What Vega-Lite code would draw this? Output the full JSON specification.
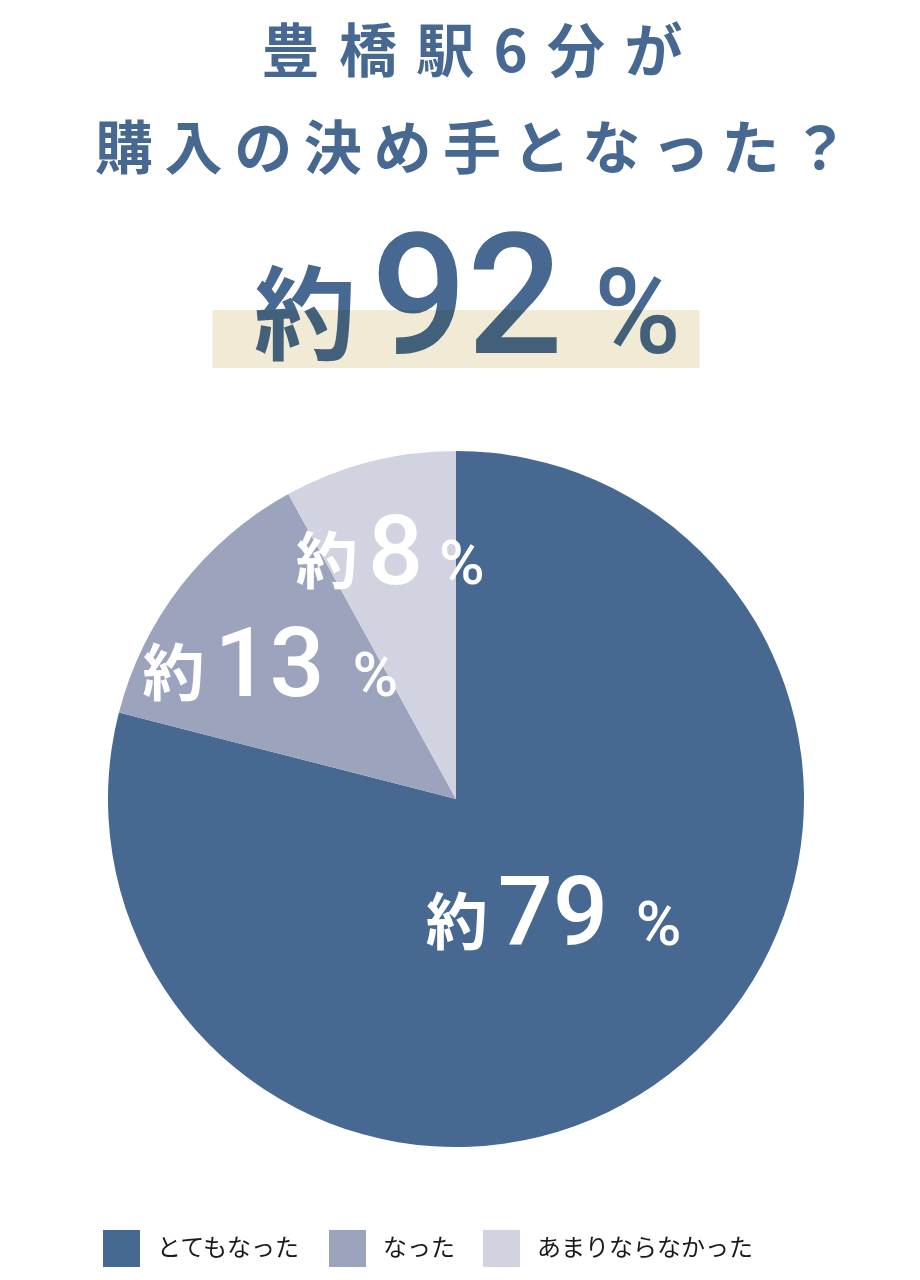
{
  "$schema": "https://vega.github.io/schema/vega-lite/v6.json",
  "description": "豊橋駅6分が購入の決め手となった？",
  "background": "white",
  "padding": {"top": 26, "left": 0, "right": 0, "bottom": 0},
  "bounds": "flush",
  "title": {
    "text": ["豊\u2004橋\u2004駅\u20046\u2004分\u2004が", "購\u2009入\u2009の\u2009決\u2009め\u2009手\u2009と\u2009な\u2009っ\u2009た\u2009？"],
    "font": "Noto Sans CJK JP",
    "fontSize": 58,
    "fontWeight": "bold",
    "lineHeight": 97,
    "color": "#466891",
    "anchor": "middle",
    "dx": 16,
    "offset": 37
  },
  "spacing": 81,
  "center": true,
  "vconcat": [
    {
      "width": 487,
      "height": 58,
      "view": {"fill": "#f1ebd6", "stroke": null},
      "data": {"values": [{"prefix": "約", "value": 92, "unit": "%"}]},
      "layer": [
        {
          "mark": {"type": "text", "font": "Noto Sans CJK JP", "fontSize": 102, "fontWeight": "bold", "color": "#466891", "blend": "multiply", "align": "right", "baseline": "alphabetic", "dx": -100, "dy": 13},
          "encoding": {"text": {"field": "prefix"}}
        },
        {
          "mark": {"type": "text", "font": "Roboto", "fontSize": 169, "fontWeight": 500, "color": "#466891", "blend": "multiply", "align": "center", "baseline": "alphabetic", "dx": 11, "dy": 14},
          "encoding": {"text": {"field": "value", "type": "quantitative"}}
        },
        {
          "mark": {"type": "text", "font": "Roboto", "fontSize": 118, "fontWeight": 500, "color": "#466891", "blend": "multiply", "align": "left", "baseline": "alphabetic", "dx": 138, "dy": 14},
          "encoding": {"text": {"field": "unit"}}
        }
      ]
    },
    {
      "width": 912,
      "height": 700,
      "data": {
        "values": [
          {"category": "とてもなった", "value": 79, "order": 1},
          {"category": "なった", "value": 13, "order": 2},
          {"category": "あまりならなかった", "value": 8, "order": 3}
        ]
      },
      "encoding": {
        "theta": {"field": "value", "type": "quantitative", "stack": true},
        "order": {"field": "order", "type": "ordinal"},
        "detail": {"field": "category"}
      },
      "layer": [
        {
          "mark": {"type": "arc", "radius": 348},
          "encoding": {
            "color": {
              "field": "category",
              "type": "nominal",
              "sort": ["とてもなった", "なった", "あまりならなかった"],
              "scale": {"domain": ["とてもなった", "なった", "あまりならなかった"], "range": ["#466891", "#9ca3bd", "#d1d4e0"]},
              "legend": {
                "title": null,
                "orient": "none",
                "legendX": 103,
                "legendY": 920,
                "direction": "horizontal",
                "symbolType": "square",
                "symbolSize": 1369,
                "symbolStrokeWidth": 0,
                "symbolOpacity": 1,
                "labelFont": "Noto Sans CJK JP",
                "labelFontSize": 24,
                "labelColor": "#1a1a1a",
                "labelOffset": 17,
                "columnPadding": 28,
                "labelLimit": 400
              }
            }
          }
        },
        {
          "mark": {"type": "text", "font": "Noto Sans CJK JP", "fontSize": 62, "fontWeight": "bold", "color": "white", "align": "right", "baseline": "alphabetic", "dx": -24, "dy": 74},
          "encoding": {
            "radius": {"field": "value", "type": "quantitative", "scale": {"type": "linear", "domain": [8, 13, 79], "range": [298, 288, 91]}},
            "text": {"value": "約"}
          }
        },
        {
          "mark": {"type": "text", "font": "Roboto", "fontSize": 97, "fontWeight": 500, "color": "white", "align": "left", "baseline": "alphabetic", "dx": -14, "dy": 74},
          "encoding": {
            "radius": {"field": "value", "type": "quantitative"},
            "text": {"field": "value", "type": "quantitative"}
          }
        },
        {
          "mark": {"type": "text", "font": "Roboto", "fontSize": 62, "fontWeight": 500, "color": "white", "align": "left", "baseline": "alphabetic", "dx": 124, "dy": 74},
          "encoding": {
            "radius": {"field": "value", "type": "quantitative"},
            "text": {"condition": {"test": "datum.value >= 10", "value": "%"}, "value": ""}
          }
        },
        {
          "mark": {"type": "text", "font": "Roboto", "fontSize": 62, "fontWeight": 500, "color": "white", "align": "left", "baseline": "alphabetic", "dx": 57, "dy": 74},
          "encoding": {
            "radius": {"field": "value", "type": "quantitative"},
            "text": {"condition": {"test": "datum.value < 10", "value": "%"}, "value": ""}
          }
        }
      ]
    }
  ],
  "config": {
    "view": {"stroke": null}
  }
}
